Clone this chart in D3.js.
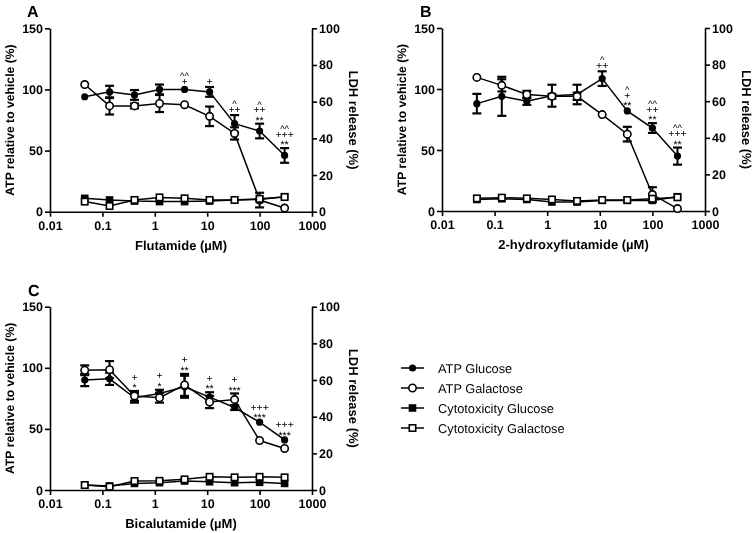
<!DOCTYPE html>
<html><head><meta charset="utf-8">
<script src="https://cdn.jsdelivr.net/npm/d3@7/dist/d3.min.js"></script>
<style>body{margin:0;background:#fff}svg{display:block;will-change:transform}text{font-family:"Liberation Sans",Arial,sans-serif;text-rendering:geometricPrecision;-webkit-font-smoothing:antialiased}</style>
</head><body>
<svg id="c" width="755" height="533" style="opacity:0.999"></svg>
<script>
// concentrations (µM)
const conc = [0.046, 0.137, 0.41, 1.23, 3.7, 11.1, 33.3, 100, 300];
const xTickValues = [0.01, 0.1, 1, 10, 100, 1000];
const xTickLabels = ["0.01", "0.1", "1", "10", "100", "1000"];
const yLeftTicks = [0, 50, 100, 150];
const yRightTicks = [0, 20, 40, 60, 80, 100];
const seriesNames = ["ATP Glucose", "ATP Galactose", "Cytotoxicity Glucose", "Cytotoxicity Galactose"];

// Panel A: Flutamide
const aAtpGlu    = [94, 98, 95.5, 100, 100, 98, 72, 66, 46];
const aAtpGluErr = [1, 5, 4, 4, 1.5, 4, 7, 6, 6];
const aAtpGal    = [104, 86.5, 86.5, 88.5, 87.5, 78, 64, 9.5, 3];
const aAtpGalErr = [1, 7, 2, 7, 1.5, 8, 5, 6, 1];
const aCytGlu    = [7.3, 6.4, 5.8, 5.5, 5.5, 5.8, 6.4, 6.7, 8.2];
const aCytGal    = [5.5, 3.1, 6.4, 7.8, 7.3, 6.4, 6.4, 7.0, 8.0];
const aAnnot     = [[], [], [], [], ["+", "^^"], ["+"], ["++", "^"], ["**", "++", "^"], ["**", "+++", "^^"]];

// Panel B: 2-hydroxyflutamide
const bAtpGlu    = [88, 94, 90, 94.5, 95.5, 108.5, 82, 68, 45];
const bAtpGluErr = [8, 16, 3, 9, 8, 6, 1.5, 4, 7];
const bAtpGal    = [109.5, 103, 95.5, 94, 94, 79, 63, 13.5, 2];
const bAtpGalErr = [1.5, 5, 3, 2, 3, 1.5, 6, 6, 1];
const bCytGlu    = [6.3, 6.7, 6.3, 4.9, 4.9, 5.8, 5.8, 5.8, 7.8];
const bCytGal    = [6.9, 7.3, 6.9, 6.3, 5.5, 6.0, 6.0, 6.7, 7.5];
const bAnnot     = [[], [], [], [], [], ["++", "^"], ["**", "+", "^"], ["**", "++", "^^"], ["**", "+++", "^^"]];

// Panel C: Bicalutamide
const cAtpGlu    = [90, 91, 75.5, 79, 84.5, 76, 67.5, 55.5, 41];
const cAtpGluErr = [5, 5, 4, 3, 9, 4, 2, 1, 1];
const cAtpGal    = [98, 98.5, 77, 75.5, 86, 72, 74, 40.5, 34];
const cAtpGalErr = [4, 7, 4, 4, 9, 5, 5, 1.5, 1.5];
const cCytGlu    = [2.7, 2.2, 3.6, 4.0, 4.9, 4.5, 4.0, 4.2, 3.6];
const cCytGal    = [2.7, 1.8, 4.9, 5.0, 5.8, 7.2, 6.9, 7.2, 6.9];
const cAnnot     = [[], [], ["*", "+"], ["*", "+"], ["**", "+"], ["**", "+"], ["***", "+"], ["***", "+++"], ["***", "+++"]];

const svg = d3.select("#c");

function marker(g, type, x, y) {
  if (type === 0) g.append("circle").attr("cx", x).attr("cy", y).attr("r", 3.6).attr("fill", "#000");
  else if (type === 1) g.append("circle").attr("cx", x).attr("cy", y).attr("r", 3.7).attr("fill", "#fff").attr("stroke", "#000").attr("stroke-width", 1.6);
  else if (type === 2) g.append("rect").attr("x", x - 3.8).attr("y", y - 3.8).attr("width", 7.6).attr("height", 7.6).attr("fill", "#000");
  else g.append("rect").attr("x", x - 3.2).attr("y", y - 3.2).attr("width", 6.4).attr("height", 6.4).attr("fill", "#fff").attr("stroke", "#000").attr("stroke-width", 1.6);
}

function panel(cfg) {
  const { left, top, right, bottom } = cfg;
  const x = d3.scaleLog().domain([0.01, 1000]).range([left, right]);
  const yL = d3.scaleLinear().domain([0, 150]).range([bottom, top]);
  const yR = d3.scaleLinear().domain([0, 100]).range([bottom, top]);
  const g = svg.append("g");

  const styleAxis = sel => {
    sel.selectAll("path.domain").attr("stroke", "#000").attr("stroke-width", 1.6);
    sel.selectAll(".tick line").attr("stroke", "#000").attr("stroke-width", 1.6);
    sel.selectAll(".tick text").attr("font-size", 12.5).attr("font-weight", "bold").attr("fill", "#000");
  };
  g.append("g").attr("transform", `translate(0,${bottom})`)
    .call(d3.axisBottom(x).tickValues(xTickValues).tickFormat((d, i) => xTickLabels[i]).tickSize(5).tickSizeOuter(0).tickPadding(4))
    .call(styleAxis);
  g.append("g").attr("transform", `translate(${left},0)`)
    .call(d3.axisLeft(yL).tickValues(yLeftTicks).tickSize(5).tickSizeOuter(0).tickPadding(2))
    .call(styleAxis);
  g.append("g").attr("transform", `translate(${right},0)`)
    .call(d3.axisRight(yR).tickValues(yRightTicks).tickSize(5).tickSizeOuter(0).tickPadding(2))
    .call(styleAxis);

  // titles
  g.append("text").attr("x", (left + right) / 2).attr("y", bottom + 38).attr("text-anchor", "middle")
    .attr("font-size", 13).attr("font-weight", "bold").text(cfg.xTitle);
  g.append("text").attr("transform", `translate(${left - 36},${(top + bottom) / 2}) rotate(-90)`).attr("text-anchor", "middle")
    .attr("font-size", 12.2).attr("font-weight", "bold").text("ATP relative to vehicle (%)");
  g.append("text").attr("transform", `translate(${right + 37},${(top + bottom) / 2}) rotate(90)`).attr("text-anchor", "middle")
    .attr("font-size", 13).attr("font-weight", "bold").text("LDH release (%)");
  g.append("text").attr("x", cfg.letterX).attr("y", top - 11).attr("font-size", 16).attr("font-weight", "bold").text(cfg.letter);

  const series = [
    { v: cfg.atpGlu, e: cfg.atpGluErr, y: yL, t: 0 },
    { v: cfg.atpGal, e: cfg.atpGalErr, y: yL, t: 1 },
    { v: cfg.cytGlu, e: null, y: yR, t: 2 },
    { v: cfg.cytGal, e: null, y: yR, t: 3 }
  ];
  const line = (ys) => d3.line().x((d, i) => x(conc[i])).y(d => ys(d));
  series.forEach(s => {
    g.append("path").attr("d", line(s.y)(s.v)).attr("fill", "none").attr("stroke", "#000").attr("stroke-width", 1.5);
    if (s.e) {
      s.v.forEach((d, i) => {
        const e = s.e[i];
        if (e < 1.6) return;
        const cx = x(conc[i]), y1 = s.y(d + e), y2 = s.y(d - e);
        g.append("line").attr("x1", cx).attr("x2", cx).attr("y1", y1).attr("y2", y2).attr("stroke", "#000").attr("stroke-width", 2);
        [y1, y2].forEach(yy => g.append("line").attr("x1", cx - 4.5).attr("x2", cx + 4.5).attr("y1", yy).attr("y2", yy).attr("stroke", "#000").attr("stroke-width", 2.2));
      });
    }
  });
  series.forEach(s => s.v.forEach((d, i) => marker(g, s.t, x(conc[i]), s.y(d))));

  // significance annotations
  const off = { "*": 0.58, "+": 0.34, "^": 0.62 };
  const ag = g.append("g").style("opacity", 0.999);
  cfg.annot.forEach((arr, i) => {
    if (!arr.length) return;
    const topV = Math.max(cfg.atpGlu[i] + cfg.atpGluErr[i], cfg.atpGal[i] + cfg.atpGalErr[i]);
    const base = yL(topV) - 6;
    arr.forEach((s, k) => {
      const fs = s[0] === "^" ? 9.5 : 10.5;
      const cy = base - k * 8;
      ag.append("text").attr("x", x(conc[i])).attr("y", cy + off[s[0]] * fs).attr("text-anchor", "middle")
        .attr("font-size", fs).attr("fill", "#000").text(s);
    });
  });
}

panel({ left: 50, top: 28.3, right: 312, bottom: 211.7, letter: "A", letterX: 27, xTitle: "Flutamide (\u00b5M)",
  atpGlu: aAtpGlu, atpGluErr: aAtpGluErr, atpGal: aAtpGal, atpGalErr: aAtpGalErr, cytGlu: aCytGlu, cytGal: aCytGal, annot: aAnnot });
panel({ left: 442, top: 28, right: 705, bottom: 211, letter: "B", letterX: 420, xTitle: "2-hydroxyflutamide (\u00b5M)",
  atpGlu: bAtpGlu, atpGluErr: bAtpGluErr, atpGal: bAtpGal, atpGalErr: bAtpGalErr, cytGlu: bCytGlu, cytGal: bCytGal, annot: bAnnot });
panel({ left: 50, top: 306.7, right: 312, bottom: 490, letter: "C", letterX: 28, xTitle: "Bicalutamide (\u00b5M)",
  atpGlu: cAtpGlu, atpGluErr: cAtpGluErr, atpGal: cAtpGal, atpGalErr: cAtpGalErr, cytGlu: cCytGlu, cytGal: cCytGal, annot: cAnnot });

// legend
const lg = svg.append("g");
seriesNames.forEach((name, i) => {
  const y = 368 + i * 20;
  lg.append("line").attr("x1", 401).attr("x2", 424).attr("y1", y).attr("y2", y).attr("stroke", "#000").attr("stroke-width", 1.5);
  marker(lg, i, 412.5, y);
  lg.append("text").attr("x", 438).attr("y", y + 4.5).attr("font-size", 12.8).attr("fill", "#000").text(name);
});
</script>
</body></html>
